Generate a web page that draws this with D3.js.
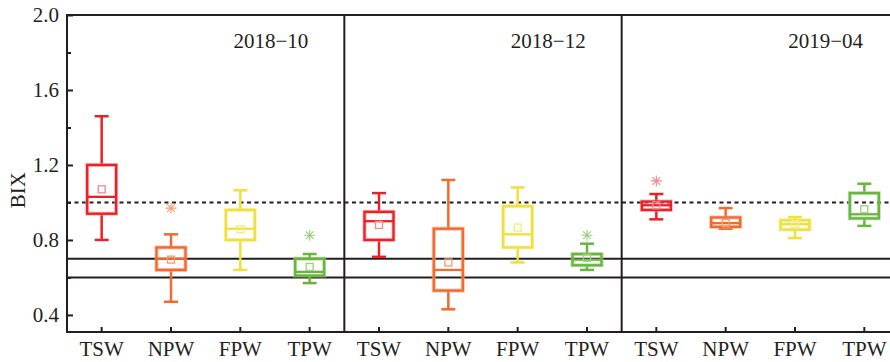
<!DOCTYPE html>
<html lang="en">
<head>
    <meta charset="UTF-8">
    <title>BIX box plots</title>
    <style>
        body { margin: 0; background: #fff; }
        text {
            font-family: "Liberation Serif", "Times New Roman", serif;
            fill: #231f20;
        }
        .axis path { display: none; }
        .axis line { stroke: #231f20; stroke-width: 2px; }
    </style>
    <script src="https://d3js.org/d3.v7.min.js"></script>
</head>
<body>
<svg></svg>
<script>
    // data: one entry per panel x group, in the order below
    const panels = ["2018\u221210", "2018\u221212", "2019\u221204"];
    const groups = ["TSW", "NPW", "FPW", "TPW"];
    const colors = ["#ea2127", "#f26a2d", "#efe03a", "#69b53f"];
    const meanColors = ["#f3898c", "#f79a74", "#f4ea86", "#9bd07e"];

    const whiskerLow  = [0.80, 0.47, 0.64, 0.57,  0.71, 0.43, 0.68, 0.64,  0.91, 0.86, 0.81, 0.875];
    const q1          = [0.94, 0.64, 0.80, 0.61,  0.80, 0.53, 0.76, 0.665, 0.96, 0.87, 0.855, 0.915];
    const median      = [1.03, 0.70, 0.86, 0.63,  0.90, 0.64, 0.83, 0.695, 0.985, 0.89, 0.884, 0.937];
    const q3          = [1.20, 0.76, 0.96, 0.70,  0.95, 0.86, 0.98, 0.725, 1.005, 0.92, 0.905, 1.05];
    const whiskerHigh = [1.46, 0.83, 1.065, 0.725, 1.05, 1.12, 1.08, 0.78,  1.045, 0.97, 0.922, 1.10];
    const mean        = [1.07, 0.695, 0.857, 0.656, 0.88, 0.68, 0.866, 0.705, 0.985, 0.89, 0.884, 0.964];
    const outliers    = [null, 0.97, null, 0.825,  null, null, null, 0.825,  1.115, null, null, null];

    const refDashed = [1.0];
    const refSolid = [0.7, 0.6];
    const majorTicks = [0.4, 0.8, 1.2, 1.6, 2.0];
    const minorTicks = [0.6, 1.0, 1.4, 1.8];

    const width = 890, height = 362;
    const margin = { top: 15, right: -9, bottom: 30, left: 67 };
    const svg = d3.select("svg").attr("width", width).attr("height", height);

    const y = d3.scaleLinear()
        .domain([0.309, 2.0])
        .range([height - margin.bottom, margin.top]);

    const xPanel = d3.scaleBand()
        .domain(panels)
        .range([margin.left, width - margin.right]);

    const xGroup = d3.scaleBand()
        .domain(groups)
        .range([0, xPanel.bandwidth()]);

    const boxW = 29, capW = 14;

    // reference lines
    svg.append("g").selectAll("line")
        .data(refSolid)
        .join("line")
        .attr("x1", margin.left).attr("x2", width - margin.right)
        .attr("y1", d => y(d)).attr("y2", d => y(d))
        .attr("stroke", "#231f20").attr("stroke-width", 2);

    svg.append("g").selectAll("line")
        .data(refDashed)
        .join("line")
        .attr("x1", margin.left).attr("x2", width - margin.right)
        .attr("y1", d => y(d)).attr("y2", d => y(d))
        .attr("stroke", "#231f20").attr("stroke-width", 2)
        .attr("stroke-dasharray", "4,3.5");

    // boxes
    const rows = [];
    panels.forEach((p, i) => {
        groups.forEach((g, j) => {
            const k = i * groups.length + j;
            rows.push({
                panel: p, group: g, ci: j,
                lo: whiskerLow[k], q1: q1[k], med: median[k], q3: q3[k],
                hi: whiskerHigh[k], mean: mean[k], out: outliers[k]
            });
        });
    });

    const box = svg.append("g").selectAll("g")
        .data(rows)
        .join("g")
        .attr("transform", d => `translate(${xPanel(d.panel) + xGroup(d.group) + xGroup.bandwidth() / 2},0)`);

    // whiskers
    box.append("line")
        .attr("y1", d => y(d.hi)).attr("y2", d => y(d.q3))
        .attr("stroke", d => colors[d.ci]).attr("stroke-width", 2.5);
    box.append("line")
        .attr("y1", d => y(d.q1)).attr("y2", d => y(d.lo))
        .attr("stroke", d => colors[d.ci]).attr("stroke-width", 2.5);
    box.append("line")
        .attr("x1", -capW / 2).attr("x2", capW / 2)
        .attr("y1", d => y(d.hi)).attr("y2", d => y(d.hi))
        .attr("stroke", d => colors[d.ci]).attr("stroke-width", 2.5);
    box.append("line")
        .attr("x1", -capW / 2).attr("x2", capW / 2)
        .attr("y1", d => y(d.lo)).attr("y2", d => y(d.lo))
        .attr("stroke", d => colors[d.ci]).attr("stroke-width", 2.5);

    // soft halo then box
    box.append("rect")
        .attr("x", -boxW / 2).attr("width", boxW)
        .attr("y", d => y(d.q3)).attr("height", d => y(d.q1) - y(d.q3))
        .attr("fill", "none")
        .attr("stroke", d => meanColors[d.ci]).attr("stroke-width", 4)
        .attr("stroke-opacity", 0.6);
    box.append("rect")
        .attr("x", -boxW / 2).attr("width", boxW)
        .attr("y", d => y(d.q3)).attr("height", d => y(d.q1) - y(d.q3))
        .attr("fill", "none")
        .attr("stroke", d => colors[d.ci]).attr("stroke-width", 2.3);
    box.append("line")
        .attr("x1", -boxW / 2).attr("x2", boxW / 2)
        .attr("y1", d => y(d.med)).attr("y2", d => y(d.med))
        .attr("stroke", d => colors[d.ci]).attr("stroke-width", 2.3);

    // mean squares
    box.append("rect")
        .attr("x", -3.5).attr("width", 7)
        .attr("y", d => y(d.mean) - 3.5).attr("height", 7)
        .attr("fill", "none")
        .attr("stroke", d => meanColors[d.ci]).attr("stroke-width", 1.3);

    // outliers as 8-armed asterisks
    const r = 5.5, rd = r * Math.SQRT1_2;
    const starPath = `M0,${-r}V${r}M${-r},0H${r}M${-rd},${-rd}L${rd},${rd}M${-rd},${rd}L${rd},${-rd}`;
    box.filter(d => d.out !== null)
        .append("path")
        .attr("d", starPath)
        .attr("transform", d => `translate(0,${y(d.out)})`)
        .attr("fill", "none")
        .attr("stroke", d => meanColors[d.ci]).attr("stroke-width", 1.1);

    // frame
    const frame = svg.append("g").attr("stroke", "#231f20").attr("stroke-width", 2);
    frame.append("line")
        .attr("x1", margin.left).attr("x2", width - margin.right)
        .attr("y1", margin.top).attr("y2", margin.top);
    frame.append("line")
        .attr("x1", margin.left - 1).attr("x2", width - margin.right)
        .attr("y1", height - margin.bottom).attr("y2", height - margin.bottom);
    frame.selectAll("line.div")
        .data(panels.concat(["end"]))
        .join("line")
        .attr("class", "div")
        .attr("x1", d => d === "end" ? width - margin.right : xPanel(d))
        .attr("x2", d => d === "end" ? width - margin.right : xPanel(d))
        .attr("y1", margin.top - 1).attr("y2", height - margin.bottom + 1);

    // y axis, ticks inside
    svg.append("g")
        .attr("class", "axis")
        .attr("transform", `translate(${margin.left},0)`)
        .call(d3.axisLeft(y).tickValues(majorTicks).tickFormat(d3.format(".1f"))
            .tickSize(-6).tickPadding(8))
        .selectAll("text")
        .attr("font-size", 21);

    svg.append("g")
        .attr("class", "axis")
        .attr("transform", `translate(${margin.left},0)`)
        .call(d3.axisLeft(y).tickValues(minorTicks).tickFormat("").tickSize(-4));

    svg.append("text")
        .attr("transform", `translate(25,${y(1.065)}) rotate(-90)`)
        .attr("text-anchor", "middle")
        .attr("font-size", 21)
        .text("BIX");

    // x axes per panel
    panels.forEach(p => {
        const xs = xGroup.copy().range([xPanel(p), xPanel(p) + xPanel.bandwidth()]);
        svg.append("g")
            .attr("class", "axis")
            .attr("transform", `translate(0,${height - margin.bottom})`)
            .call(d3.axisBottom(xs).tickSize(-5).tickPadding(9))
            .selectAll("text")
            .attr("font-size", 21);
    });

    // panel labels
    svg.append("g").selectAll("text")
        .data(panels)
        .join("text")
        .attr("x", d => xPanel(d) + xPanel.bandwidth() - 36)
        .attr("y", 48)
        .attr("text-anchor", "end")
        .attr("font-size", 21)
        .text(d => d);
</script>
</body>
</html>
